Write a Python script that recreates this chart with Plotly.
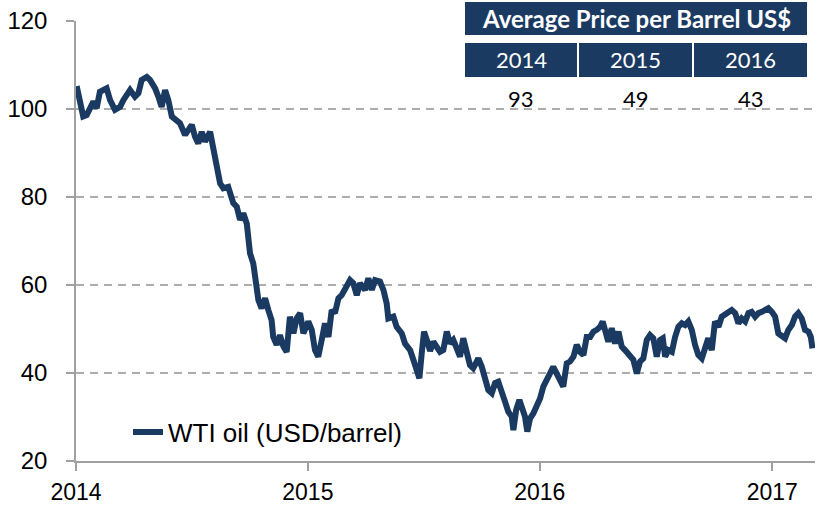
import pandas as pd
import plotly.graph_objects as go

# ---------------- data ----------------
decimal_year = [
    2014.003, 2014.017, 2014.031, 2014.046, 2014.060, 2014.075, 2014.089, 2014.103, 2014.132, 2014.147,
    2014.168, 2014.190, 2014.204, 2014.233, 2014.254, 2014.269, 2014.283, 2014.305, 2014.319, 2014.341,
    2014.355, 2014.369, 2014.384, 2014.398, 2014.413, 2014.434, 2014.448, 2014.470, 2014.484, 2014.499,
    2014.513, 2014.527, 2014.542, 2014.556, 2014.578, 2014.592, 2014.606, 2014.621, 2014.635, 2014.656,
    2014.678, 2014.693, 2014.707, 2014.721, 2014.736, 2014.750, 2014.764, 2014.786, 2014.800, 2014.815,
    2014.829, 2014.843, 2014.850, 2014.865, 2014.879, 2014.894, 2014.908, 2014.922, 2014.937, 2014.951,
    2014.966, 2014.980, 2015.001, 2015.016, 2015.030, 2015.044, 2015.059, 2015.073, 2015.088, 2015.102,
    2015.116, 2015.131, 2015.145, 2015.167, 2015.181, 2015.195, 2015.210, 2015.224, 2015.246, 2015.260,
    2015.275, 2015.289, 2015.310, 2015.325, 2015.339, 2015.346, 2015.368, 2015.382, 2015.404, 2015.418,
    2015.440, 2015.454, 2015.469, 2015.480, 2015.490, 2015.500, 2015.512, 2015.526, 2015.540, 2015.555,
    2015.569, 2015.583, 2015.598, 2015.612, 2015.626, 2015.641, 2015.655, 2015.669, 2015.684, 2015.698,
    2015.712, 2015.734, 2015.749, 2015.763, 2015.777, 2015.792, 2015.806, 2015.820, 2015.835, 2015.849,
    2015.863, 2015.878, 2015.885, 2015.897, 2015.911, 2015.925, 2015.935, 2015.945, 2015.957, 2015.971,
    2015.986, 2016.000, 2016.014, 2016.029, 2016.043, 2016.057, 2016.072, 2016.086, 2016.100, 2016.115,
    2016.129, 2016.144, 2016.158, 2016.172, 2016.187, 2016.201, 2016.216, 2016.230, 2016.244, 2016.259,
    2016.270, 2016.280, 2016.294, 2016.309, 2016.323, 2016.338, 2016.352, 2016.366, 2016.381, 2016.402,
    2016.417, 2016.431, 2016.445, 2016.460, 2016.474, 2016.488, 2016.503, 2016.517, 2016.529, 2016.539,
    2016.553, 2016.568, 2016.582, 2016.596, 2016.611, 2016.625, 2016.639, 2016.654, 2016.668, 2016.682,
    2016.697, 2016.711, 2016.725, 2016.740, 2016.754, 2016.769, 2016.783, 2016.805, 2016.826, 2016.841,
    2016.855, 2016.869, 2016.884, 2016.898, 2016.912, 2016.927, 2016.941, 2016.956, 2016.970, 2016.984,
    2016.999, 2017.013, 2017.027, 2017.042, 2017.056, 2017.070, 2017.085, 2017.099, 2017.113, 2017.128,
    2017.142, 2017.157, 2017.167, 2017.174,
]
wti_price = [
    105.2, 102.0, 98.3, 98.6, 100.5, 101.7, 100.2, 103.9, 104.7, 102.0,
    99.8, 100.5, 102.0, 104.3, 102.8, 103.6, 106.6, 107.3, 106.6, 104.7,
    102.8, 100.5, 104.3, 102.0, 98.3, 97.5, 96.8, 94.1, 95.2, 96.4,
    93.7, 92.2, 94.8, 92.6, 94.8, 91.1, 87.7, 83.1, 82.0, 82.3,
    78.6, 77.8, 74.8, 76.3, 74.0, 67.2, 64.9, 56.6, 54.7, 57.0,
    54.3, 52.0, 48.2, 46.4, 48.6, 46.0, 44.8, 52.8, 49.0, 52.4,
    53.6, 49.0, 51.7, 49.8, 45.2, 43.7, 47.5, 51.3, 48.2, 54.3,
    53.6, 57.0, 57.7, 59.6, 61.1, 60.4, 57.7, 60.4, 58.9, 61.5,
    58.9, 61.1, 60.8, 58.9, 55.8, 52.4, 52.8, 50.5, 49.0, 46.7,
    45.2, 43.0, 40.7, 38.8, 44.5, 49.4, 47.5, 45.0, 47.1, 46.0,
    44.8, 45.2, 49.4, 46.7, 47.5, 45.6, 43.7, 47.9, 44.5, 41.8,
    41.1, 43.3, 41.4, 38.4, 36.1, 35.4, 37.7, 38.0, 36.1, 33.5,
    31.2, 30.1, 27.0, 31.6, 33.9, 31.6, 30.1, 26.7, 29.7, 30.8,
    32.7, 34.2, 36.9, 38.8, 39.9, 41.4, 39.5, 38.4, 36.9, 42.2,
    42.6, 43.7, 46.4, 44.8, 44.1, 48.2, 48.2, 49.4, 49.8, 50.5,
    51.7, 49.4, 47.1, 50.2, 46.7, 49.4, 46.0, 45.2, 44.1, 43.0,
    39.9, 42.6, 43.3, 47.5, 48.6, 47.9, 43.7, 47.5, 47.9, 43.7,
    45.2, 44.8, 48.2, 50.5, 51.3, 50.9, 51.7, 49.8, 46.4, 44.1,
    43.3, 45.2, 47.9, 45.2, 51.7, 50.5, 52.8, 53.6, 54.3, 53.6,
    51.3, 52.4, 51.7, 53.6, 53.9, 52.8, 53.6, 53.9, 54.3, 54.7,
    53.9, 52.8, 49.0, 48.2, 47.9, 49.8, 50.9, 52.8, 53.6, 52.4,
    49.8, 49.4, 48.2, 45.6,
]
series_name = "WTI oil (USD/barrel)"

x_tick_dates = ["2014-01-01", "2015-01-01", "2016-01-01", "2017-01-01"]
x_tick_labels = ["2014", "2015", "2016", "2017"]
y_tick_values = [20, 40, 60, 80, 100, 120]

table_title = "Average Price per Barrel US$"
table_years = ["2014", "2015", "2016"]
table_avg_prices = [93, 49, 43]

# ---------------- figure ----------------
NAVY = "#1B3A62"
AXIS_FONT = "Liberation Sans, Arial, sans-serif"
TABLE_FONT = "Lato, Open Sans, sans-serif"
W, H = 818, 505
ML, MR, MT, MB = 76, 3, 21, 44
PW, PH = W - ML - MR, H - MT - MB

def px_x(p):
    return (p - ML) / PW

def px_y(p):
    return (H - MB - p) / PH

base = pd.Timestamp("2014-01-01")
dates = [base + pd.to_timedelta((d - 2014) * 365.25, unit="D") for d in decimal_year]

fig = go.Figure()
fig.add_trace(go.Scatter(
    x=dates, y=wti_price, mode="lines", name=series_name,
    line=dict(color=NAVY, width=6),
    hoverinfo="x+y",
))

x_end = base + pd.to_timedelta(3.185 * 365.25, unit="D")

fig.update_layout(
    width=W, height=H, autosize=False,
    margin=dict(l=ML, r=MR, t=MT, b=MB, pad=0, autoexpand=False),
    paper_bgcolor="white", plot_bgcolor="white",
    font=dict(family=AXIS_FONT, color="black"),
    showlegend=True,
    legend=dict(
        x=px_x(128), y=px_y(432), xanchor="left", yanchor="middle",
        bgcolor="rgba(0,0,0,0)", borderwidth=0,
        font=dict(family=AXIS_FONT, size=26, color="black"),
    ),
    xaxis=dict(
        type="date", automargin=False,
        range=[base, x_end],
        tickmode="array", tickvals=x_tick_dates, ticktext=x_tick_labels,
        showgrid=False, zeroline=False,
        showline=True, linecolor="#A0A0A0", linewidth=1.5,
        ticks="outside", ticklen=8, tickcolor="#A0A0A0", tickwidth=1.5,
        tickfont=dict(family=AXIS_FONT, size=23, color="black"),
        ticklabelstandoff=2,
    ),
    yaxis=dict(
        range=[20, 120], automargin=False,
        tickmode="array", tickvals=y_tick_values,
        showgrid=True, gridcolor="#ADADAD", gridwidth=1.5, griddash="8px,6px",
        zeroline=False,
        showline=True, linecolor="#A0A0A0", linewidth=1.5,
        ticks="outside", ticklen=8, tickcolor="#A0A0A0", tickwidth=1.5,
        tickfont=dict(family=AXIS_FONT, size=24, color="black"),
        ticklabelstandoff=14,
    ),
)

# ---------------- table (top right) ----------------
shapes = []
annotations = []
hx0, hx1, hy0, hy1 = 465, 807, 2, 35
shapes.append(dict(type="rect", xref="paper", yref="paper", layer="above",
                   x0=px_x(hx0), x1=px_x(hx1), y0=px_y(hy1), y1=px_y(hy0),
                   fillcolor=NAVY, line=dict(width=0)))
annotations.append(dict(xref="paper", yref="paper", x=px_x((hx0 + hx1) / 2), y=px_y(19),
                        text="<b>" + table_title + "</b>", showarrow=False,
                        xanchor="center", yanchor="middle",
                        font=dict(family=TABLE_FONT, size=24, color="white")))

cells = [(465, 577), (579, 692), (694, 807)]
for (cx0, cx1), yr, val in zip(cells, table_years, table_avg_prices):
    shapes.append(dict(type="rect", xref="paper", yref="paper", layer="above",
                       x0=px_x(cx0), x1=px_x(cx1), y0=px_y(77), y1=px_y(43),
                       fillcolor=NAVY, line=dict(width=0)))
    annotations.append(dict(xref="paper", yref="paper", x=px_x((cx0 + cx1) / 2), y=px_y(60),
                            text=yr, showarrow=False, xanchor="center", yanchor="middle",
                            font=dict(family=TABLE_FONT, size=22, color="white")))
    annotations.append(dict(xref="paper", yref="paper", x=px_x((cx0 + cx1) / 2), y=px_y(98),
                            text=str(val), showarrow=False, xanchor="center", yanchor="middle",
                            font=dict(family=TABLE_FONT, size=22, color="black")))

fig.update_layout(shapes=shapes, annotations=annotations)

fig.write_html(
    "out.html",
    config={"displayModeBar": False},
    post_script="document.body.style.margin='0';document.body.style.overflow='hidden';",
)
